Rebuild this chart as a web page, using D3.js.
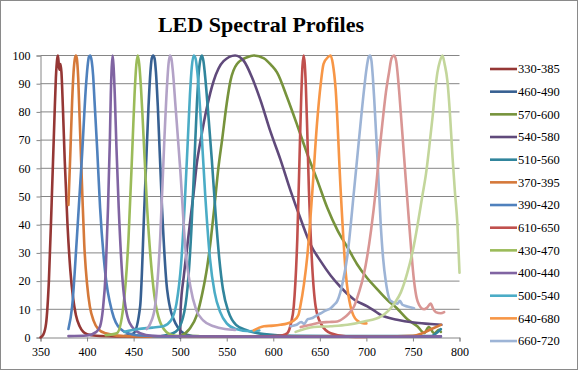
<!DOCTYPE html>
<html>
<head>
<meta charset="utf-8">
<script src="https://cdn.jsdelivr.net/npm/d3@7"></script>
<style>
  body { margin: 0; background: #fff; }
  svg text { font-family: "Liberation Serif", "Times New Roman", serif; fill: #000; }
</style>
</head>
<body>
<div id="root"></div>
<script>
// series names, in legend order (the legend box only has room for the first 13)
const bandNames = ["330-385", "460-490", "570-600", "540-580", "510-560", "370-395", "390-420",
    "610-650", "430-470", "400-440", "500-540", "640-680", "660-720", "700-760", "750-800", "470-510"];
const bandColors = ["#953735", "#376092", "#77933C", "#604A7B", "#31859C", "#D5793A", "#4F81BD",
    "#C0504D", "#9BBB59", "#8064A2", "#4BACC6", "#F79646", "#9DB4D6", "#D99694", "#C3D69B", "#B3A2C7"];

// [wavelength nm, relative intensity %]
const s330_385 = [[350, 0], [353, 1], [356, 5], [359, 20], [362, 48], [365, 78], [366.5, 92], [368, 99], [368.8, 100],
    [369.8, 96], [370.5, 95], [371.5, 97], [372.5, 94], [374, 82], [376, 63], [379, 40], [382, 24], [385, 14], [388, 8],
    [392, 4], [396, 2], [400, 1.2], [410, 0.6], [430, 0.4], [480, 0.3]];
const s460_490 = [[440, 0.5], [450, 1.5], [457, 11], [461.5, 46], [466, 82], [468, 94], [469.5, 99], [471, 100],
    [472.5, 99], [474, 94], [476, 82], [480.5, 46], [486, 17], [495, 5], [507, 1], [520, 0.4], [600, 0.3], [780, 0.4]];
const s570_600 = [[500, 0.5], [510, 3], [518, 8], [524, 16], [529, 25], [533, 35], [537, 47], [541, 60], [545, 70],
    [550, 83], [554, 91], [561, 97], [572, 99.4], [579, 100], [590, 99], [598, 96.5], [604, 94], [615, 85], [626, 75],
    [636.6, 65], [647, 56], [658, 46], [669, 38], [679.6, 32], [690, 26], [701, 21], [712, 17], [722.6, 13.3],
    [733, 10.3], [744, 6.5], [755, 3.9], [762, 1.6], [767, 3.7], [772.8, 1.5], [778, 2.7], [780, 2]];
const s540_580 = [[500, 0], [500.5, 10], [504, 22], [507.5, 32], [511, 42], [514.7, 52], [518, 62], [522, 70],
    [529, 82], [536, 91], [546.6, 98], [559, 100], [568.5, 98], [577.4, 92], [586.4, 84], [597, 73], [607.8, 63],
    [618.6, 52], [629.4, 42], [640, 33], [651, 27], [661.6, 22], [672, 18], [686.7, 13.5], [701, 11], [708, 9.6],
    [715.4, 8], [733, 6.3], [751, 5.3], [769, 4.8], [780.5, 4.5]];
const s510_560 = [[480, 0.5], [495, 2], [503, 7], [508, 18], [512, 38], [515, 60], [518, 83], [520, 94], [522, 99],
    [523.5, 100], [525, 98], [527, 92], [530, 80], [534, 63], [538, 44], [542, 28], [546, 17], [552, 9], [560, 4.5],
    [572, 2.5], [590, 1.2], [620, 0.6], [700, 0.5], [770, 0.5], [775, 1.5], [780, 3]];
const s370_395 = [[380, 47], [382, 65], [384, 84], [385.5, 94], [387, 99], [388, 100], [389, 99], [390.5, 92],
    [392, 78], [393.5, 64], [395, 50], [397, 33], [400, 19], [403, 11], [407, 6], [412, 3], [420, 1.5], [440, 0.5],
    [500, 0.3], [600, 0.3], [700, 0.3], [750, 0.6], [760, 1.5], [770, 3], [780, 4.5]];
const s390_420 = [[380, 3], [384, 11], [389, 35], [394.5, 64], [399, 90], [400.5, 96], [402, 99.5], [403.5, 100],
    [405, 98], [406.5, 93], [408, 84], [411, 66], [414, 46], [419.5, 23], [427, 9], [436, 3], [450, 1], [470, 0.5],
    [500, 0.3]];
const s610_650 = [[580, 0.3], [600, 0.5], [610, 0.8], [615, 1.5], [619, 5], [622, 11], [625.8, 35], [628.7, 70],
    [630, 85], [631.3, 96], [632.6, 100], [633.8, 97], [635, 89], [636.5, 73], [638.3, 52], [641.2, 29], [645.5, 11],
    [651, 5], [661.7, 1.5], [680, 0.3], [700, 0.2]];
const s430_470 = [[420, 0.8], [432, 1.5], [439, 11], [444.5, 35], [449, 70], [451, 86], [453, 97], [454.5, 100],
    [456, 97], [458, 88], [459.5, 79], [464.5, 46], [471.5, 17], [480.5, 4], [490, 1], [500, 0.5], [520, 0.5]];
const s400_440 = [[380, 0.5], [400, 0.7], [410, 2], [414, 4], [417, 10], [420, 23], [422.5, 46], [424.5, 70],
    [425.5, 86], [426.5, 96], [427.5, 100], [428.5, 96], [430, 84], [431.5, 68], [434, 46], [439, 17], [446, 5],
    [457, 1.5], [470, 0.6], [500, 0.4], [600, 0.3], [700, 0.3], [780, 0.4]];
const s500_540 = [[440, 2], [455, 3], [470, 3.5], [482, 4], [490, 6], [496, 12], [501, 26], [505, 48], [508.5, 72],
    [510.5, 86], [512.5, 96], [514.5, 100], [516.5, 99], [518.5, 94], [522, 78], [527, 50], [532, 28], [537, 16],
    [543, 9], [550, 5], [560, 3], [575, 2.2], [585, 2.5]];
const s640_680 = [[579, 2.5], [585, 3.5], [590, 4], [600, 4.2], [607.5, 4.5], [615, 5], [622, 6], [627, 8], [629, 11],
    [633, 19], [636.6, 29], [642, 52], [647, 76], [651, 90], [654, 97], [659, 99.5], [661.5, 100], [664, 97],
    [667, 88], [672.4, 52], [677.8, 23], [683, 11], [690, 6], [697.5, 5], [700, 5]];
const s660_720 = [[618.6, 4], [625, 4.5], [630, 5.5], [633, 4.8], [637, 6.5], [641, 6.8], [645, 7.5], [651, 8.6],
    [656, 9.5], [661.6, 10.4], [665, 11.5], [668.8, 13], [672, 16], [674.2, 19], [679.6, 29], [686.7, 52], [692, 70],
    [697.5, 88], [700, 95], [702.5, 99.5], [704, 100], [705.5, 98], [707, 92], [708.5, 84], [711.8, 64], [715.4, 40],
    [718, 28], [720.8, 20], [726, 13], [733.3, 12], [736, 13], [738.7, 11.6], [744, 11], [751.2, 10.4]];
const s700_760 = [[629.4, 3.7], [640, 4.5], [651, 5.3], [660, 5.5], [668.8, 5.7], [676, 7], [681, 8.5], [686.7, 11],
    [692, 16], [697, 22], [701, 29], [705, 38], [710, 52], [714, 66], [717.2, 76], [721, 87], [724.3, 94],
    [727, 99], [729.8, 100], [732, 98], [734, 92], [735.5, 86], [740.5, 64], [746, 40], [751.2, 20], [754, 14],
    [756.6, 11.6], [762, 10], [765, 10.5], [769, 12], [772, 10], [774.5, 9], [780, 8.6], [783.5, 9]];
const s750_800 = [[624, 2], [643.7, 3.7], [661.6, 4], [679.6, 4.5], [697.5, 5.7], [715.4, 7.4], [729.8, 12], [737, 16],
    [744, 23], [750, 31], [755, 40], [760, 50], [764, 58], [768, 69], [771, 78], [774, 88], [776.3, 94], [779, 98],
    [781.7, 100], [784, 97], [787, 91], [790, 78], [792.5, 64], [795, 52], [797.8, 40], [800, 23]];
const s470_510 = [[464, 3], [468, 5], [473, 11], [478.5, 35], [483, 70], [486, 90], [487.5, 97], [489, 100],
    [490.5, 99], [492, 95], [495, 82], [500, 60], [506, 30], [511, 18], [517, 10], [525, 6], [536, 4], [548, 3],
    [559, 2.7]];

const seriesValues = [s330_385, s460_490, s570_600, s540_580, s510_560, s370_395, s390_420, s610_650,
    s430_470, s400_440, s500_540, s640_680, s660_720, s700_760, s750_800, s470_510];

const xTicks = d3.range(350, 801, 50);
const yTicks = d3.range(0, 101, 10);
const chartTitle = "LED Spectral Profiles";

let width = 578;
let height = 370;
let gridColor = "#868686";
let serif = '"Liberation Serif", "Times New Roman", serif';

let svg = d3.select('#root').append('svg')
    .attr('width', width)
    .attr('height', height)
    .attr('font-family', serif);

svg.append('rect')
    .attr('x', 0.5).attr('y', 0.5)
    .attr('width', width - 1).attr('height', height - 1)
    .style('fill', '#fff')
    .style('stroke', '#8a8a8a');

let x = d3.scaleLinear().domain([350, 800]).range([40.5, 459.5]);
let y = d3.scaleLinear().domain([0, 100]).range([337.5, 55.5]);

// horizontal gridlines
svg.append('g').selectAll('line')
    .data(yTicks.filter(d => d > 0))
    .enter().append('line')
    .attr('x1', x(350)).attr('x2', x(800))
    .attr('y1', d => y(d)).attr('y2', d => y(d))
    .style('stroke', gridColor);

let yAxis = svg.append('g')
    .attr('transform', 'translate(' + x(350) + ',0)')
    .call(d3.axisLeft(y).tickValues(yTicks).tickSize(4).tickPadding(6));

let xAxis = svg.append('g')
    .attr('transform', 'translate(0,' + y(0) + ')')
    .call(d3.axisBottom(x).tickValues(xTicks).tickSize(4).tickPadding(6));

[yAxis, xAxis].forEach(function (ax) {
    ax.attr('font-family', serif).attr('font-size', 12);
    ax.selectAll('path, line').style('stroke', gridColor);
    ax.selectAll('text').style('font-size', '12px').style('font-family', serif).style('fill', '#000');
});

let line = d3.line()
    .x(d => x(d[0]))
    .y(d => y(d[1]))
    .curve(d3.curveMonotoneX);

svg.append('g').selectAll('path')
    .data(seriesValues)
    .enter().append('path')
    .attr('d', line)
    .style('fill', 'none')
    .style('stroke', (d, i) => bandColors[i])
    .style('stroke-width', 2.6)
    .style('stroke-linejoin', 'round')
    .style('stroke-linecap', 'round');

svg.append('text')
    .attr('x', 261)
    .attr('y', 32)
    .attr('text-anchor', 'middle')
    .style('font-family', serif)
    .style('font-size', '22px')
    .style('font-weight', 'bold')
    .text(chartTitle);

// legend: entries stop once the box runs out of room
let legendTop = 69;
let rowHeight = 22.67;
let legendBottom = 352;
let legend = svg.append('g');
bandNames.forEach(function (name, i) {
    let ly = legendTop + i * rowHeight;
    if (ly > legendBottom) return;
    legend.append('line')
        .attr('x1', 490).attr('x2', 517)
        .attr('y1', ly).attr('y2', ly)
        .style('stroke', bandColors[i])
        .style('stroke-width', 2.6);
    legend.append('text')
        .attr('x', 518)
        .attr('y', ly)
        .attr('dy', '0.35em')
        .style('font-family', serif)
        .style('font-size', '12.5px')
        .text(name);
});
</script>
</body>
</html>
